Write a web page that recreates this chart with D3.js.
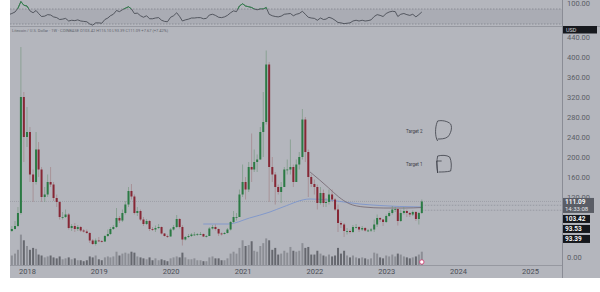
<!DOCTYPE html>
<html>
  <head>
    <title>LTC weekly</title>
  <script src="https://d3js.org/d3.v7.min.js"></script>
  <style>
    body { margin: 0; background: #fff; }
    svg { display: block; font-family: Roboto, "DejaVu Sans", sans-serif; }
  </style>
 </head>
  <body>

<script type="text/javascript">

// two candles a month (1st and 16th), Oct 2017 -> Jul 2023
var closes = [
  52,56,62,88,320,240,
  250,165,150,215,175,120,125,150,145,118,110,80,80,85,58,62,56,60,53,51,48,33,26,33,
  32,31,42,46,56,60,78,73,88,105,132,121,88,92,75,66,72,56,55,58,60,47,42,41,
  55,60,76,60,35,40,42,45,45,46,46,41,42,57,60,56,47,46,48,55,70,80,80,125,
  150,135,180,175,190,195,250,270,385,180,165,140,130,140,175,175,180,150,185,200,275,210,160,146,
  140,108,128,108,110,125,115,95,68,65,52,52,50,60,60,55,58,53,53,55,65,78,75,70,
  82,88,95,96,72,88,92,88,85,90,76,88,111
];
var highs = [
  55,62,72,100,420,330,
  300,260,175,250,230,180,140,165,180,150,125,112,90,95,88,66,68,64,62,56,55,50,36,37,
  40,34,44,55,60,64,98,82,95,112,140,146,125,100,95,80,76,74,60,63,66,61,48,45,
  58,64,84,78,64,42,46,48,50,48,50,47,44,60,64,65,57,49,50,58,72,92,88,135,
  185,160,190,247,215,205,260,330,413,390,200,170,145,150,180,195,235,185,195,210,296,280,215,165,
  155,145,140,135,118,135,135,118,105,72,68,58,55,64,66,62,62,60,56,58,75,85,80,75,
  85,92,102,100,98,95,100,95,90,93,92,90,115
];
var lows = [
  48,50,55,60,85,190,
  220,150,110,145,160,110,110,120,140,112,100,75,75,78,55,52,50,52,50,49,46,28,24,23,
  30,29,30,40,44,54,58,68,70,85,100,115,85,82,72,62,64,52,52,50,56,45,41,38,
  41,53,58,57,23,33,38,40,42,42,44,40,39,42,55,53,42,43,45,47,53,68,73,80,
  120,115,130,150,170,170,195,200,265,110,150,105,125,108,140,165,165,140,150,175,195,190,120,140,
  125,95,105,100,100,105,110,92,50,58,40,45,47,48,57,50,52,51,50,50,50,60,70,62,
  68,80,85,90,63,70,85,80,80,82,72,65,86
];
var volumes = [
  9,10,12,16,32,26,
  20,16,18,17,11,10,8,9,10,8,7,9,6,7,8,6,7,5,5,4,5,9,8,10,
  6,5,8,9,8,9,14,10,12,13,12,14,13,9,8,7,6,8,5,7,5,6,5,4,
  7,8,9,8,13,8,6,6,7,5,5,4,4,8,9,7,7,5,5,7,12,14,12,18,
  26,20,21,25,15,14,20,23,28,26,16,18,11,12,15,13,19,15,14,15,23,18,19,11,
  11,15,12,10,9,11,9,10,18,12,15,10,8,10,8,7,8,7,6,7,13,12,8,7,
  10,9,11,9,12,11,9,8,7,8,9,11,14
];
var rsi = [
  55,58,62,72,90,80,
  78,65,60,66,58,50,51,55,54,49,47,42,43,45,38,40,39,41,38,37,36,30,27,33,
  33,32,42,46,52,56,66,63,68,72,76,70,58,59,52,48,52,44,44,46,47,40,37,36,
  48,52,60,50,38,41,43,46,46,47,47,44,45,54,56,53,48,47,49,53,60,65,63,78,
  84,78,76,74,70,68,70,70,74,56,52,50,49,51,56,57,58,52,56,58,64,56,48,46,
  45,40,46,42,43,48,45,40,34,33,31,32,33,38,40,38,40,38,39,41,50,55,53,50,
  58,62,64,63,50,56,58,55,53,56,49,55,62
];
var firstOpen = 50;

// moving averages
var maSlowDates = ["2020-06-15","2020-10-20","2021-02-05","2021-05-20","2021-07-25","2021-12-10","2022-03-15","2022-06-01","2022-08-20","2022-11-30","2023-03-10","2023-07-05"];
var maSlowVals = [66,66,78,90,100,116,114,110,106,103,101,100];
var maFastDates = ["2021-12-10","2022-01-28","2022-03-15","2022-05-05","2022-06-25","2022-09-10","2022-12-20","2023-04-05","2023-07-05"];
var maFastVals = [170,154,138,120,107,100,98,98,99];

// 40 and 80 sit under the price tags in the reference, so they are left out
var yTicks = [0,120,160,200,240,280,320,360,400,440];
var tagValues = ["111.09","103.42","93.53","93.39"];
var tagTime = "14:33:08";
var targets = ["Target 2","Target 1"];
var targetPrices = [252,186];

var W = 600, H = 292;
var left = 10, right = 562, mainTop = 27, mainBottom = 265, axisBottom = 278;

var svg = d3.select("body").append("svg")
    .attr("width", W).attr("height", H);

svg.append("rect").attr("width", W).attr("height", H).attr("fill", "#fff");
svg.append("rect").attr("x", left).attr("y", 0)
    .attr("width", W - left).attr("height", axisBottom).attr("fill", "#b4b6bd");

var parse = d3.timeParse("%Y-%m-%d");

var data = closes.map(function(c, i) {
  return {
    date: new Date(2017, 9 + Math.floor(i / 2), i % 2 ? 16 : 1),
    o: i == 0 ? firstOpen : closes[i - 1],
    c: c, h: highs[i], l: lows[i], v: volumes[i], r: rsi[i]
  };
});

var x = d3.scaleTime()
    .domain([new Date(2018, 0, 1), new Date(2025, 0, 1)])
    .range([27, 530]);
var y = d3.scaleLinear().domain([0, 440]).range([257, 37]);
var yv = d3.scaleLinear().domain([0, 40]).range([0, 38]);
var yr = d3.scaleLinear().domain([30, 70]).range([24, 9]);

var defs = svg.append("defs");
defs.append("clipPath").attr("id", "mainclip").append("rect")
    .attr("x", left).attr("y", mainTop).attr("width", right - left).attr("height", mainBottom - mainTop);
defs.append("clipPath").attr("id", "rsiclip").append("rect")
    .attr("x", left).attr("y", 0).attr("width", right - left).attr("height", 26);
defs.append("clipPath").attr("id", "obclip").append("rect")
    .attr("x", left).attr("y", -10).attr("width", right - left).attr("height", yr(70) + 10);

// ---- RSI panel
var rsiG = svg.append("g").attr("clip-path", "url(#rsiclip)");
rsiG.append("rect").attr("x", left).attr("width", right - left)
    .attr("y", yr(70)).attr("height", yr(30) - yr(70)).attr("fill", "#aaacb4");
[70, 30].forEach(function(v) {
  rsiG.append("line").attr("x1", left).attr("x2", right)
      .attr("y1", yr(v)).attr("y2", yr(v))
      .attr("stroke", "#7c7f88").attr("stroke-width", 0.7).attr("stroke-dasharray", "1.5,1.5");
});
var rline = d3.line().x(function(d) { return x(d.date); }).y(function(d) { return yr(d.r); });
rsiG.append("path").datum(data).attr("d", rline)
    .attr("fill", "none").attr("stroke", "#3e414a").attr("stroke-width", 0.8);
rsiG.append("g").attr("clip-path", "url(#obclip)").append("path").datum(data).attr("d", rline)
    .attr("fill", "none").attr("stroke", "#2f8a4c").attr("stroke-width", 0.9);
svg.append("line").attr("x1", left).attr("x2", W).attr("y1", 26.5).attr("y2", 26.5)
    .attr("stroke", "#8e9098").attr("stroke-width", 0.8);
svg.append("text").attr("x", 567).attr("y", 6)
    .attr("font-size", 7.5).attr("fill", "#5b5e66").text("100.00");

// ---- legend line
svg.append("text").attr("x", 12).attr("y", 31.5).attr("font-size", 4)
    .attr("fill", "#62656d")
    .text("Litecoin / U.S. Dollar · 1W · COINBASE   O103.42  H115.10  L93.39  C111.09  +7.67 (+7.42%)");

// ---- main panel
var g = svg.append("g").attr("clip-path", "url(#mainclip)");

// volume
g.selectAll(".vol").data(data).enter().append("rect")
    .attr("x", function(d) { return x(d.date) - 1; })
    .attr("width", 2)
    .attr("y", function(d) { return mainBottom - yv(d.v); })
    .attr("height", function(d) { return yv(d.v); })
    .attr("fill", function(d) { return d.c >= d.o ? "#8c8e95" : "#66686f"; });

// price line and last levels
g.append("line").attr("x1", left).attr("x2", right)
    .attr("y1", y(+tagValues[0])).attr("y2", y(+tagValues[0]))
    .attr("stroke", "#8f929a").attr("stroke-width", 0.6).attr("stroke-dasharray", "1,1");
[tagValues[1], tagValues[2]].forEach(function(v) {
  g.append("line").attr("x1", x(data[data.length - 1].date)).attr("x2", right)
      .attr("y1", y(+v)).attr("y2", y(+v))
      .attr("stroke", "#868992").attr("stroke-width", 0.6).attr("stroke-dasharray", "1.5,1.5");
});

// moving averages
var ma = d3.line().curve(d3.curveMonotoneX)
    .x(function(d) { return x(parse(d[0])); }).y(function(d) { return y(d[1]); });
g.append("path").datum(d3.zip(maSlowDates, maSlowVals)).attr("d", ma)
    .attr("fill", "none").attr("stroke", "#7d95cc").attr("stroke-width", 0.9);
g.append("path").datum(d3.zip(maFastDates, maFastVals)).attr("d", ma)
    .attr("fill", "none").attr("stroke", "#72656f").attr("stroke-width", 0.8);

// candles
var candle = g.selectAll(".candle").data(data).enter().append("g");
candle.append("line")
    .attr("x1", function(d) { return x(d.date); }).attr("x2", function(d) { return x(d.date); })
    .attr("y1", function(d) { return y(d.h); }).attr("y2", function(d) { return y(d.l); })
    .attr("stroke", function(d) { return d.c >= d.o ? "#6f9479" : "#a07a80"; })
    .attr("stroke-width", 0.6);
candle.append("rect")
    .attr("x", function(d) { return x(d.date) - 1; })
    .attr("width", 2)
    .attr("y", function(d) { return y(Math.max(d.o, d.c)); })
    .attr("height", function(d) { return Math.max(0.8, Math.abs(y(d.o) - y(d.c))); })
    .attr("fill", function(d) { return d.c >= d.o ? "#2b7a44" : "#862735"; });

// event marker on the last bar
g.append("circle").attr("cx", x(data[data.length - 1].date)).attr("cy", 262).attr("r", 2.2)
    .attr("fill", "#fff").attr("stroke", "#d0306a").attr("stroke-width", 0.8);

// hand-drawn targets
var scribbles = [
  "M5,9 C3,3 4,-5 6,-9 C10,-10 16,-9 19,-6 C21,-2 19,4 16,7 C13,9 9,9 6,9 M5,9 l1,2",
  "M6,10 C5,4 5,-3 6,-7 C10,-8 15,-8 18,-6 C20,-2 20,4 19,8 C15,9 10,9 7,9 M6,10 l-1,-12 l5,0"
];
targets.forEach(function(t, i) {
  g.append("text").attr("x", x(new Date(2023, 3, 12))).attr("y", y(targetPrices[i]) + 1.5)
      .attr("font-size", 4.5).attr("fill", "#3c3f47").text(t);
  g.append("path")
      .attr("transform", "translate(" + x(new Date(2023, 7, 20)) + "," + (y(targetPrices[i]) - 1) + ")")
      .attr("d", scribbles[i])
      .attr("fill", "none").attr("stroke", "#3c3f47").attr("stroke-width", 0.8);
});

// ---- axes
svg.append("line").attr("x1", left).attr("x2", right).attr("y1", mainBottom + 0.5).attr("y2", mainBottom + 0.5)
    .attr("stroke", "#8e9098").attr("stroke-width", 0.8);
svg.append("line").attr("x1", right + 0.5).attr("x2", right + 0.5).attr("y1", 0).attr("y2", axisBottom)
    .attr("stroke", "#7f828a").attr("stroke-width", 0.8);

var xAxis = svg.append("g").attr("transform", "translate(0," + mainBottom + ")")
    .call(d3.axisBottom(x).ticks(d3.timeYear.every(1)).tickFormat(d3.timeFormat("%Y")).tickSize(0).tickPadding(4));
xAxis.select(".domain").remove();
xAxis.selectAll("text").attr("font-size", 7.5).attr("fill", "#4b4e56").attr("font-family", "Roboto, sans-serif");

var yAxis = svg.append("g").attr("transform", "translate(" + (right + 4) + ",0)")
    .call(d3.axisRight(y).tickValues(yTicks).tickFormat(d3.format(".2f")).tickSize(0).tickPadding(1));
yAxis.select(".domain").remove();
yAxis.selectAll("text").attr("font-size", 7.5).attr("fill", "#5b5e66").attr("font-family", "Roboto, sans-serif");

// USD tag
svg.append("rect").attr("x", 563).attr("y", 26).attr("width", 34).attr("height", 7.5).attr("fill", "#17191e");
svg.append("text").attr("x", 566).attr("y", 31.8).attr("font-size", 5.5).attr("fill", "#d0d2d8").text("USD");

// price tags (stacked so they do not overlap)
var tagH = [15, 8, 8, 8];
var tagTop = y(+tagValues[0]) - 3.5;
tagValues.forEach(function(v, i) {
  svg.append("rect").attr("x", 563).attr("y", tagTop).attr("width", i == 0 ? 31 : 27).attr("height", tagH[i])
      .attr("fill", i == 0 ? "#5a5d66" : "#15171c");
  svg.append("text").attr("x", 565).attr("y", tagTop + 6).attr("font-size", 6.5)
      .attr("font-weight", "bold").attr("fill", "#f2f3f5").text(v);
  if (i == 0) {
    svg.append("text").attr("x", 565).attr("y", tagTop + 13).attr("font-size", 6)
        .attr("fill", "#e4e5e9").text(tagTime);
  }
  tagTop += tagH[i] + 2;
});

</script>


</body>
</html>
